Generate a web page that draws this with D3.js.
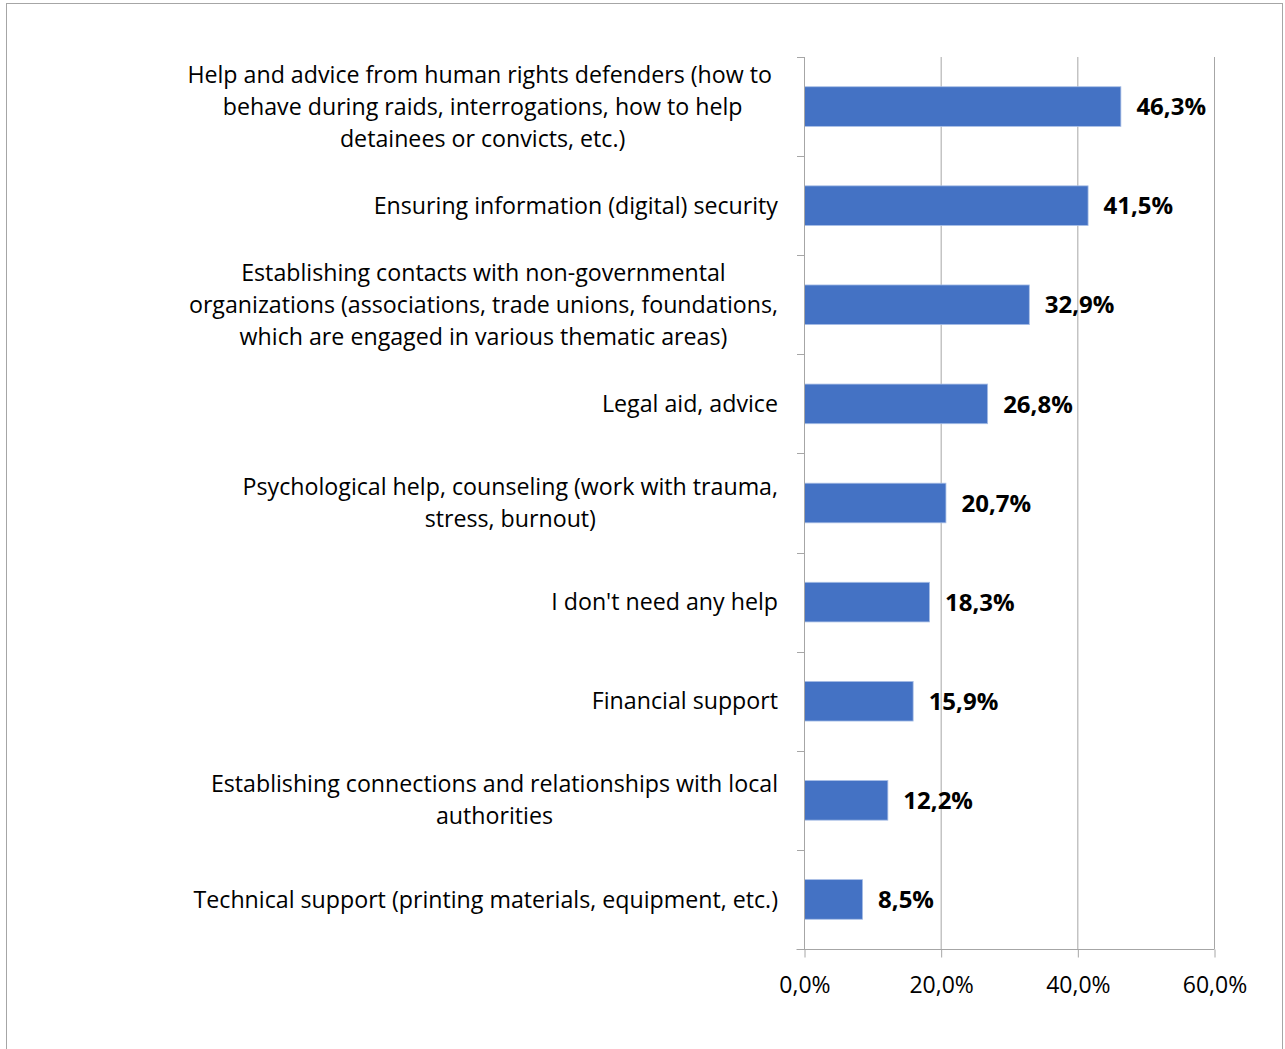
<!DOCTYPE html>
<html>
<head>
<meta charset="utf-8">
<script src="https://cdn.jsdelivr.net/npm/d3@7"></script>
<style>
  html, body { margin: 0; padding: 0; background: #fff; }
  svg { display: block; }
  text { font-family: "Open Sans", "Noto Sans", sans-serif; fill: #000; }
</style>
</head>
<body>
<svg id="chart" width="1285" height="1049"></svg>
<script>
// Survey answers: what kind of help respondents need (share of respondents, %)
const categories = [
  ["Help and advice from human rights defenders (how to ", "behave during raids, interrogations, how to help", "detainees or convicts, etc.)"],
  ["Ensuring information (digital) security"],
  ["Establishing contacts with non-governmental", "organizations (associations, trade unions, foundations,", "which are engaged in various thematic areas)"],
  ["Legal aid, advice"],
  ["Psychological help, counseling (work with trauma,", "stress, burnout)"],
  ["I don't need any help"],
  ["Financial support"],
  ["Establishing connections and relationships with local", "authorities"],
  ["Technical support (printing materials, equipment, etc.)"]
];
const values = [46.3, 41.5, 32.9, 26.8, 20.7, 18.3, 15.9, 12.2, 8.5];
const xTicks = [0, 20, 40, 60];

const fmt = v => v.toFixed(1).replace(".", ",") + "%";

const svg = d3.select("#chart");

// outer chart frame
svg.append("rect")
  .attr("x", 6.5).attr("y", 3.5)
  .attr("width", 1276).attr("height", 1060)
  .attr("fill", "none").attr("stroke", "#a6a6a6").attr("stroke-width", 1);

const plot = { left: 804, right: 1214, top: 57, bottom: 949 };

const x = d3.scaleLinear().domain([0, 60]).range([plot.left, plot.right]);
const y = d3.scaleBand()
  .domain(d3.range(categories.length))
  .range([plot.top, plot.bottom])
  .paddingInner(0.6).paddingOuter(0.3);

const gridColor = "#a6a6a6";

// vertical gridlines
svg.append("g").selectAll("line")
  .data(xTicks.slice(1))
  .join("line")
  .attr("x1", d => x(d) + 0.5).attr("x2", d => x(d) + 0.5)
  .attr("y1", plot.top).attr("y2", plot.bottom)
  .attr("stroke", gridColor).attr("stroke-width", 1);

// bars
svg.append("g").selectAll("rect")
  .data(values)
  .join("rect")
  .attr("x", x(0) + 0.5)
  .attr("y", (d, i) => y(i))
  .attr("width", d => x(d) - x(0))
  .attr("height", y.bandwidth())
  .attr("fill", "#4472c4")
  .attr("stroke", "#a9bfe6").attr("stroke-width", 0.8);

// bottom axis
const xAxis = d3.axisBottom(x)
  .tickValues(xTicks)
  .tickFormat(fmt)
  .tickSizeInner(8).tickSizeOuter(0).tickPadding(19);
const gx = svg.append("g")
  .attr("transform", `translate(0.5,${plot.bottom + 0.5})`)
  .call(xAxis);
gx.select(".domain").attr("stroke", gridColor).attr("d", `M${plot.left - 8},0H${plot.right}`);
gx.selectAll(".tick line").attr("stroke", gridColor);
gx.selectAll(".tick text").attr("font-size", 23).attr("font-family", null).attr("fill", "#000");

// left axis line and band-boundary ticks
const boundaries = d3.range(categories.length + 1).map(i => plot.top + i * y.step());
svg.append("line")
  .attr("x1", plot.left + 0.5).attr("x2", plot.left + 0.5)
  .attr("y1", plot.top).attr("y2", plot.bottom)
  .attr("stroke", gridColor);
svg.append("g").selectAll("line")
  .data(boundaries)
  .join("line")
  .attr("x1", plot.left - 7).attr("x2", plot.left)
  .attr("y1", d => Math.round(d) + 0.5).attr("y2", d => Math.round(d) + 0.5)
  .attr("stroke", gridColor);

// category labels: each wrapped block is right-aligned, lines centred within it
const lineH = 32;
const labelRight = 778;
const lab = svg.append("g").attr("font-size", 23.2);
categories.forEach((lines, i) => {
  const cy = y(i) + y.bandwidth() / 2;
  const t = lab.append("text").attr("xml:space", "preserve").style("white-space", "pre");
  const spans = lines.map((ln, k) => t.append("tspan")
    .attr("y", cy + (k - (lines.length - 1) / 2) * lineH)
    .attr("dy", "0.35em")
    .text(ln));
  const widths = spans.map(s => s.node().getComputedTextLength());
  const maxW = d3.max(widths);
  const center = labelRight - maxW / 2;
  spans.forEach(s => s.attr("x", center).attr("text-anchor", "middle"));
});

// value labels
svg.append("g").selectAll("text")
  .data(values)
  .join("text")
  .attr("x", d => x(d) + 16)
  .attr("y", (d, i) => y(i) + y.bandwidth() / 2)
  .attr("dy", "0.36em")
  .attr("font-size", 24)
  .attr("font-weight", "bold")
  .text(fmt);
</script>
</body>
</html>
